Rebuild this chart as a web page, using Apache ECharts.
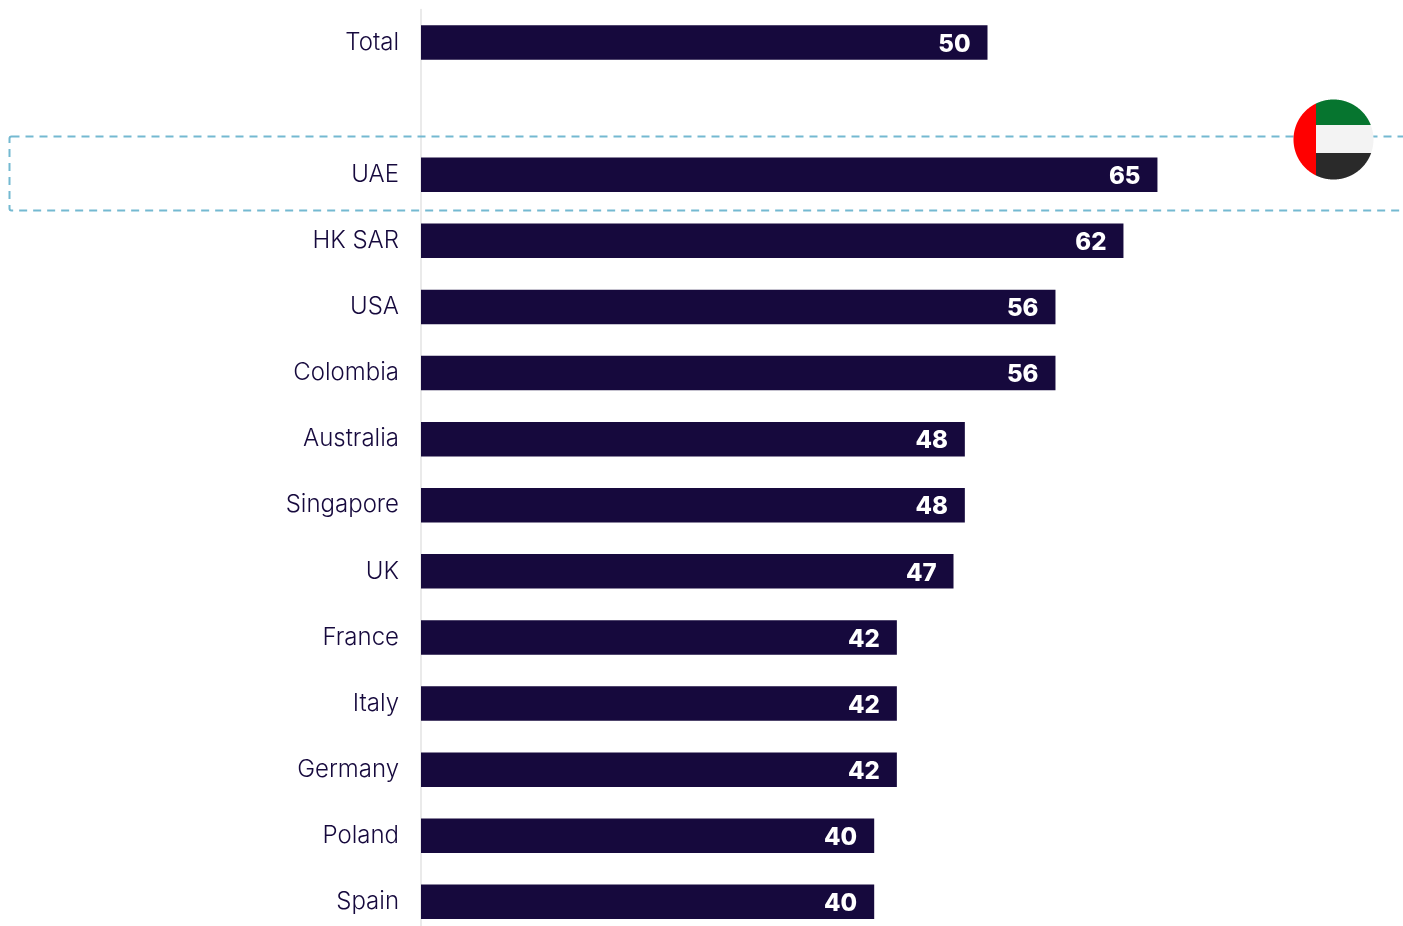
<!DOCTYPE html>
<html>
<head>
<meta charset="utf-8">
<title>UAE compared with other markets</title>
<style>html,body{margin:0;padding:0;background:#fff}#chart{width:1403px;height:926px}</style>
<script src="https://cdn.jsdelivr.net/npm/echarts@6/dist/echarts.min.js"></script>
</head>
<body>
<div id="chart"></div>
<script>
// The empty category leaves the gap between the overall figure and the markets.
const categories = ['Total', '', 'UAE', 'HK SAR', 'USA', 'Colombia', 'Australia', 'Singapore', 'UK', 'France', 'Italy', 'Germany', 'Poland', 'Spain'];
const values = [50, null, 65, 62, 56, 56, 48, 48, 47, 42, 42, 42, 40, 40];

const INK = '#16093d';
const FONT = 'Inter, Lato, sans-serif';

// UAE flag badge: the part of a circle that falls inside each band of the flag.
const BADGE = { cx: 1333.5, cy: 139.5, r: 40 };
function badgeBand(x0, x1, y0, y1) {
  const pts = [];
  // Walk the circle's outline and clamp it to the band's box; the clamped outline is the piece.
  for (let a = 0; a < 720; a++) {
    const t = a / 720 * 2 * Math.PI;
    const x = BADGE.cx + BADGE.r * Math.cos(t);
    const y = BADGE.cy + BADGE.r * Math.sin(t);
    pts.push([Math.min(x1, Math.max(x0, x)), Math.min(y1, Math.max(y0, y))]);
  }
  return pts;
}
const flagPieces = [
  { pts: badgeBand(1316, 1400, 90, 125), fill: '#06752f' },
  { pts: badgeBand(1316, 1400, 125, 153), fill: '#f3f3f3' },
  { pts: badgeBand(1316, 1400, 153, 190), fill: '#2a2a2a' },
  { pts: badgeBand(1280, 1316, 90, 190), fill: '#ff0000' }
];

const chart = echarts.init(document.getElementById('chart'), null, { renderer: 'canvas' });
chart.setOption({
  animation: false,
  backgroundColor: '#ffffff',
  grid: { left: 421, top: 9.5, width: 906.4, height: 925.4, outerBoundsMode: 'none' },
  xAxis: { type: 'value', min: 0, max: 80, show: false },
  yAxis: {
    type: 'category',
    inverse: true,
    data: categories,
    axisTick: { show: false },
    axisLine: { show: true, lineStyle: { color: '#e3e3e3', width: 1.5 } },
    axisLabel: {
      margin: 22,
      padding: [6, 0, 0, 0],
      color: INK,
      fontFamily: FONT,
      fontWeight: 300,
      fontSize: 24
    }
  },
  series: [{
    type: 'bar',
    data: values,
    barWidth: 34.5,
    itemStyle: { color: INK },
    label: {
      show: true,
      position: 'insideRight',
      distance: 17,
      offset: [0, 2],
      color: '#ffffff',
      fontFamily: FONT,
      fontWeight: 800,
      fontSize: 24
    }
  }],
  graphic: [
    {
      type: 'rect',
      z: 10,
      shape: { x: 9.5, y: 136.5, width: 1500, height: 74, r: 2 },
      style: { fill: 'none', stroke: '#74b9d1', lineWidth: 2, lineDash: [8, 6] }
    }
  ].concat(flagPieces.map(p => ({
    type: 'polygon',
    z: 11,
    shape: { points: p.pts },
    style: { fill: p.fill }
  })))
});
</script>
</body>
</html>
